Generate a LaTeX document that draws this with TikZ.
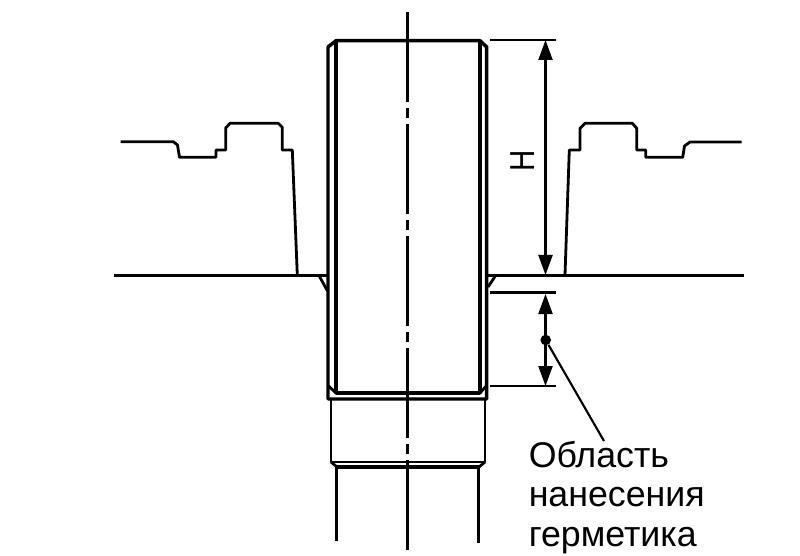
\documentclass[tikz,border=0pt]{standalone}
\usepackage{fontspec}
\setmainfont{Liberation Sans}
\usetikzlibrary{arrows.meta}
\newlength{\dotrad}
\setlength{\dotrad}{2.8pt}
\tikzset{
  heavy/.style={line width=2.6pt,line join=round},
  medium/.style={line width=2.1pt,line join=round},
  fine/.style={line width=1.6pt,line join=round},
  dimline/.style={line width=1.6pt,{Triangle[length=15pt,width=10.5pt]}-{Triangle[length=15pt,width=10.5pt]}},
  axisline/.style={line width=2.4pt,dash pattern=on 67.5pt off 4.5pt on 7.5pt off 4.5pt}
}
\begin{document}
\begin{tikzpicture}[x=0.75pt,y=-0.75pt]
            \useasboundingbox (0,0) rectangle (800,556);
            \draw[heavy] (328,399)--(328,47)--(336,40.7)--(480,40.7)--(486.7,47)--(486.7,399)--cycle;
            \draw[heavy] (336,40.7)--(336,393)--(480,393)--(480,40.7);
            \draw[medium] (328.5,386)--(336,393);
            \draw[medium] (486.2,386)--(480,393);
            \draw[medium] (331,399)--(331,462)--(485,462)--(485,399);
            \draw[medium] (331,462)--(337,467);
            \draw[medium] (485,462)--(479,467);
            \draw[heavy] (336.7,541)--(336.7,467)--(478.5,467)--(478.5,543);
            \draw[axisline] (407.7,12)--(407.7,552);
            \draw[heavy] (114,275.7)--(328,275.7);
            \draw[heavy] (488,275.7)--(744,275.7);
            \draw[medium] (319.5,276.5)--(327.5,291);
            \draw[medium] (495,276.5)--(488,287);
            \draw[medium] (120.7,141.7)--(173.3,141.7)--(177.5,145)--(179.5,157.3)--(216,157.3)--(216,150)--(225.7,150)--(225.7,128)--(230,123.3)--(278.3,123.3)--(282.3,127.3)--(282.3,150)--(292.3,150)--(297.3,275);
            \draw[medium] (565,275)--(569.3,150)--(580,150)--(580,128.3)--(585,123.3)--(632.3,123.3)--(636.7,128.3)--(636.7,150)--(645.7,150)--(645.7,157.3)--(682.7,157.3)--(684.5,146)--(690,142)--(741.7,142);
            \draw[medium] (490,40)--(556,40);
            \draw[heavy] (490,292.7)--(556,292.7);
            \draw[fine] (490,386)--(556,386);
            \coordinate (htop) at (545.5,40);
            \coordinate (hbot) at (545.5,275);
            \coordinate (stop) at (545.5,294);
            \coordinate (sbot) at (545.5,386);
            \draw[dimline] (htop)--(hbot);
            \draw[dimline] (stop)--(sbot);
            \node[rotate=90,font=\fontsize{26pt}{26pt}\selectfont,inner sep=0pt] (hmark) at (522.7,160.7) {\scalebox{0.85}[1]{H}};
            \node[fill=black,circle,inner sep=\dotrad] (sealdot) at (545.7,340){};
            \coordinate (sealend) at (604,441);
            \draw[fine] (sealdot)--(sealend);
            \node[align=left,anchor=north west,inner sep=0pt,font=\fontsize{26.8pt}{29.6pt}\selectfont] (seallabel) at (528.5,441) {Область\\нанесения\\герметика};
\end{tikzpicture}
\end{document}
